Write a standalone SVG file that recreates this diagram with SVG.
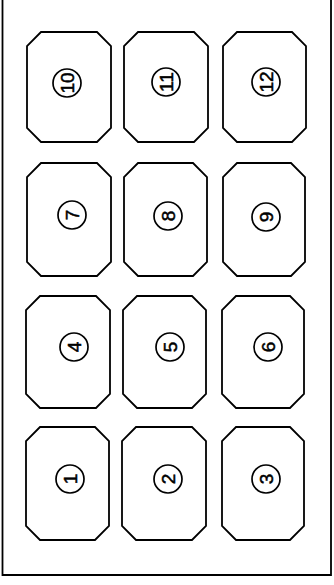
<svg xmlns="http://www.w3.org/2000/svg" width="334" height="585" viewBox="0 0 334 585">
<style>
.box{fill:none;stroke:#000;stroke-width:1.8;stroke-linejoin:miter}
.ring{fill:none;stroke:#000;stroke-width:1.7}
.num{font-family:"Liberation Sans",Arial,sans-serif;font-size:19px;text-anchor:middle;dominant-baseline:central;fill:#000;stroke:#000;stroke-width:0.5}
.frame{fill:none;stroke:#000;stroke-width:1.8}
</style>
<rect width="334" height="585" fill="#fff"/>
<path class="frame" d="M2.5,0 V575 H331 V0"/>
<g id="n10"><polygon class="box" points="41,32 97,32 111,46 111,128 97,142 41,142 27,128 27,46"/><circle class="ring" cx="67" cy="83" r="14"/><text class="num" x="67" y="83" transform="rotate(-90 67 83)">10</text></g>
<g id="n11"><polygon class="box" points="138,32 194,32 208,46 208,128 194,142 138,142 124,128 124,46"/><circle class="ring" cx="166" cy="82" r="14"/><text class="num" x="166" y="82" transform="rotate(-90 166 82)">11</text></g>
<g id="n12"><polygon class="box" points="237,32 292,32 306,46 306,128 292,142 237,142 223,128 223,46"/><circle class="ring" cx="266" cy="82" r="14"/><text class="num" x="266" y="82" transform="rotate(-90 266 82)">12</text></g>
<g id="n7"><polygon class="box" points="41,163 97,163 111,177 111,262 97,276 41,276 27,262 27,177"/><circle class="ring" cx="72" cy="215" r="14"/><text class="num" x="72" y="215" transform="rotate(-90 72 215)">7</text></g>
<g id="n8"><polygon class="box" points="138,163 193,163 207,177 207,262 193,276 138,276 124,262 124,177"/><circle class="ring" cx="168" cy="216" r="14"/><text class="num" x="168" y="216" transform="rotate(-90 168 216)">8</text></g>
<g id="n9"><polygon class="box" points="237,163 291,163 305,177 305,262 291,276 237,276 223,262 223,177"/><circle class="ring" cx="266" cy="217" r="14"/><text class="num" x="266" y="217" transform="rotate(-90 266 217)">9</text></g>
<g id="n4"><polygon class="box" points="40,296 96,296 110,310 110,394 96,408 40,408 26,394 26,310"/><circle class="ring" cx="74" cy="347" r="14"/><text class="num" x="74" y="347" transform="rotate(-90 74 347)">4</text></g>
<g id="n5"><polygon class="box" points="137,296 192,296 206,310 206,394 192,408 137,408 123,394 123,310"/><circle class="ring" cx="170" cy="347" r="14"/><text class="num" x="170" y="347" transform="rotate(-90 170 347)">5</text></g>
<g id="n6"><polygon class="box" points="236,296 290,296 304,310 304,394 290,408 236,408 222,394 222,310"/><circle class="ring" cx="268" cy="347" r="14"/><text class="num" x="268" y="347" transform="rotate(-90 268 347)">6</text></g>
<g id="n1"><polygon class="box" points="40,427 95,427 109,441 109,526 95,540 40,540 26,526 26,441"/><circle class="ring" cx="70" cy="479" r="14"/><text class="num" x="70" y="479" transform="rotate(-90 70 479)">1</text></g>
<g id="n2"><polygon class="box" points="136,427 192,427 206,441 206,526 192,540 136,540 122,526 122,441"/><circle class="ring" cx="168" cy="479" r="14"/><text class="num" x="168" y="479" transform="rotate(-90 168 479)">2</text></g>
<g id="n3"><polygon class="box" points="236,427 290,427 304,441 304,526 290,540 236,540 222,526 222,441"/><circle class="ring" cx="266" cy="479" r="14"/><text class="num" x="266" y="479" transform="rotate(-90 266 479)">3</text></g>
</svg>
